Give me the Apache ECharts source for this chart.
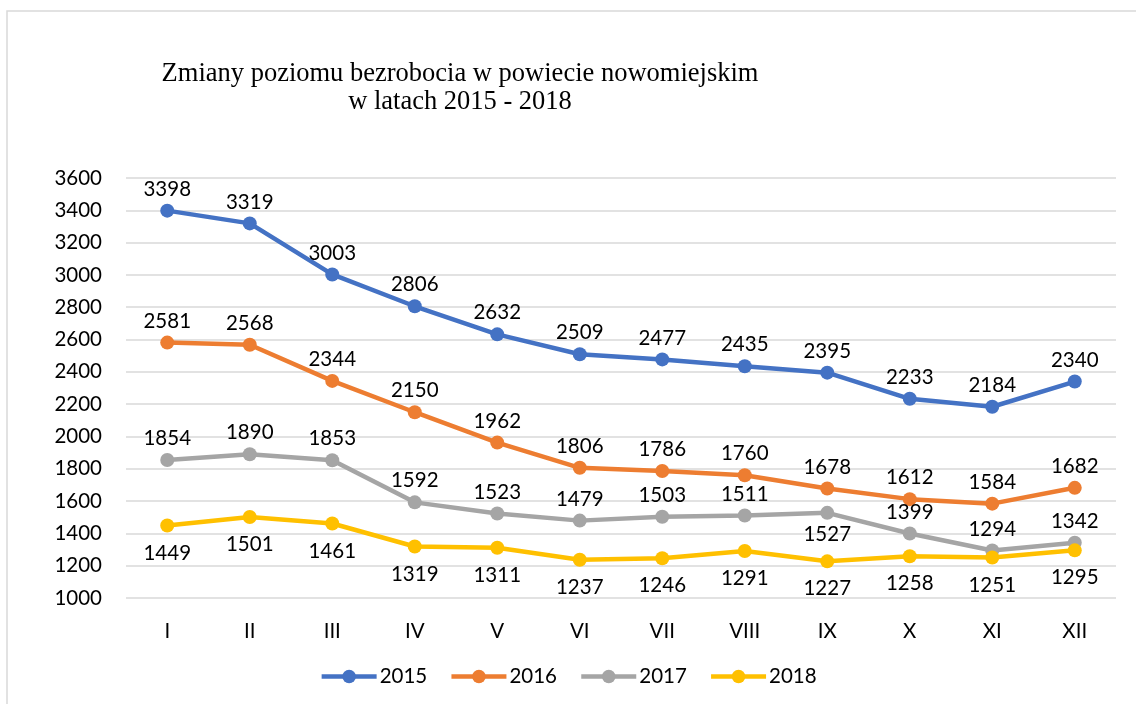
<!DOCTYPE html>
<html><head><meta charset="utf-8">
<script src="https://cdn.jsdelivr.net/npm/echarts@6/dist/echarts.min.js"></script>
<style>html,body{margin:0;padding:0;background:#fff}#c{width:1136px;height:704px}</style>
</head><body><div id="c"></div>
<script>
const months = ['I','II','III','IV','V','VI','VII','VIII','IX','X','XI','XII'];
const y2015 = [3398,3319,3003,2806,2632,2509,2477,2435,2395,2233,2184,2340];
const y2016 = [2581,2568,2344,2150,1962,1806,1786,1760,1678,1612,1584,1682];
const y2017 = [1854,1890,1853,1592,1523,1479,1503,1511,1527,1399,1294,1342];
const y2018 = [1449,1501,1461,1319,1311,1237,1246,1291,1227,1258,1251,1295];
const labelPos2017 = ['top','top','top','top','top','top','top','top','bottom','top','top','top'];
const titleLines = ['Zmiany poziomu bezrobocia w powiecie nowomiejskim','w latach 2015 - 2018'];

const font = 'Lato, "Open Sans", sans-serif';
const fs = 20.5;
const chart = echarts.init(document.getElementById('c'));
function ser(name, data, color, pos, dist){
  return {
    name, type:'line', data: data.map((v,i)=>({value:v, label:{position: Array.isArray(pos)?pos[i]:pos}})),
    symbol:'circle', symbolSize:14, showAllSymbol:true,
    lineStyle:{width:4.5,color}, itemStyle:{color},
    label:{show:true, distance:dist, color:'#000', fontFamily:font, fontSize:fs},
    emphasis:{disabled:true}
  };
}
chart.setOption({
  animation:false,
  graphic:[{type:'rect', shape:{x:7,y:11,width:1400,height:900}, style:{fill:'none', stroke:'#d9d9d9', lineWidth:1.5}, silent:true}],
  title:{text: titleLines.join('\n'), left:455, textAlign:'center', top:55,
    textStyle:{fontFamily:'"Liberation Serif", "DejaVu Serif", serif', fontWeight:'normal', fontSize:26.5, lineHeight:28, color:'#000'}},
  grid:{left:126, right:20, top:178, bottom:106},
  xAxis:{type:'category', data:months, boundaryGap:true,
    axisLine:{show:false}, axisTick:{show:false},
    axisLabel:{margin:23, color:'#000', fontFamily:font, fontSize:fs}},
  yAxis:{type:'value', min:1000, max:3600, interval:200,
    axisLine:{show:false}, axisTick:{show:false},
    splitLine:{lineStyle:{color:'#d9d9d9', width:1.5}},
    axisLabel:{margin:24, color:'#000', fontFamily:font, fontSize:fs, formatter: v => String(v)}},
  legend:{bottom:12, left:'center', itemWidth:55, itemHeight:17, itemGap:22,
    lineStyle:{width:4.5},
    textStyle:{fontFamily:font, fontSize:fs, color:'#000', padding:[0,0,0,-2]},
    data:['2015','2016','2017','2018']},
  series:[
    ser('2015', y2015, '#4472C4', 'top', 4),
    ser('2016', y2016, '#ED7D31', 'top', 4),
    ser('2017', y2017, '#A5A5A5', labelPos2017, 4),
    ser('2018', y2018, '#FFC000', 'bottom', 10)
  ]
});
</script></body></html>
